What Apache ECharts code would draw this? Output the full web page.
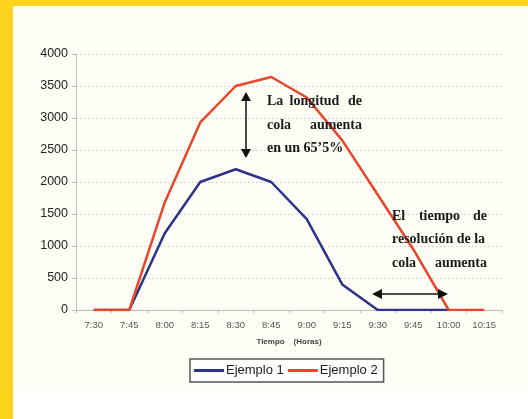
<!DOCTYPE html>
<html>
<head>
<meta charset="utf-8">
<script src="https://cdn.jsdelivr.net/npm/echarts@6/dist/echarts.min.js"></script>
<style>
html,body{margin:0;padding:0;background:#FDD31E;}
#c{width:528px;height:419px;}
</style>
</head>
<body>
<div id="c"></div>
<script>
const categories = ['7:30','7:45','8:00','8:15','8:30','8:45','9:00','9:15','9:30','9:45','10:00','10:15'];
const ejemplo1 = [0, 0, 1200, 2000, 2200, 2000, 1420, 400, 0, 0, 0, null];
const ejemplo2 = [0, 0, 1680, 2930, 3500, 3640, 3320, 2650, 1800, 950, 0, 0];
const yTicks = [0, 500, 1000, 1500, 2000, 2500, 3000, 3500, 4000];
const seriesNames = ['Ejemplo 1', 'Ejemplo 2'];

const chart = echarts.init(document.getElementById('c'));
const serif = '"Liberation Serif", "DejaVu Serif", serif';
const sans = '"Liberation Sans", Arial, sans-serif';

function word(text, x, y, align) {
  return {type:'text', z:10, style:{text:text, x:x, y:y, align:align||'left', verticalAlign:'middle',
    font:'bold 14px ' + serif, fill:'#1a1a1a'}};
}
function justified(words, x0, x1, y) {
  const out = [];
  if (words.length === 1) { out.push(word(words[0], x0, y, 'left')); return out; }
  out.push(word(words[0], x0, y, 'left'));
  out.push(word(words[words.length-1], x1, y, 'right'));
  for (let i = 1; i < words.length - 1; i++) {
    out.push(word(words[i], x0 + (x1 - x0) * i / (words.length - 1), y, 'center'));
  }
  return out;
}
function vArrow(x, y0, y1) {
  return [
    {type:'line', z:10, shape:{x1:x, y1:y0+6, x2:x, y2:y1-6}, style:{stroke:'#111', lineWidth:1.5}},
    {type:'polygon', z:10, shape:{points:[[x,y0],[x-5,y0+9],[x+5,y0+9]]}, style:{fill:'#111'}},
    {type:'polygon', z:10, shape:{points:[[x,y1],[x-5,y1-9],[x+5,y1-9]]}, style:{fill:'#111'}}
  ];
}
function hArrow(y, x0, x1) {
  return [
    {type:'line', z:10, shape:{x1:x0+6, y1:y, x2:x1-6, y2:y}, style:{stroke:'#111', lineWidth:1.5}},
    {type:'polygon', z:10, shape:{points:[[x0,y],[x0+10,y-5],[x0+10,y+5]]}, style:{fill:'#111'}},
    {type:'polygon', z:10, shape:{points:[[x1,y],[x1-10,y-5],[x1-10,y+5]]}, style:{fill:'#111'}}
  ];
}

const graphics = [
  {type:'rect', z:-10, silent:true, shape:{x:13, y:6, width:515, height:383}, style:{fill:'#FEFEF7'}},
  {type:'rect', z:-10, silent:true, shape:{x:13, y:389, width:515, height:30}, style:{fill:'#FFFFFF'}}
]
.concat(vArrow(246, 92, 158))
.concat(justified(['La','longitud','de'], 267, 362, 101))
.concat(justified(['cola','aumenta'], 267, 362, 125))
.concat(justified(['en un 65’5%'], 267, 362, 148))
.concat(justified(['El','tiempo','de'], 392, 487, 216))
.concat(justified(['resolución de la'], 392, 487, 239))
.concat(justified(['cola','aumenta'], 392, 487, 263))
.concat(hArrow(294, 372, 448));

chart.setOption({
  backgroundColor: 'transparent',
  animation: false,
  grid: {left:76, right:26, top:54, bottom:109, containLabel:false},
  legend: {
    data: seriesNames,
    left: 190, top: 359,
    itemWidth: 30, itemHeight: 3, itemGap: 4,
    borderColor: '#555', borderWidth: 1.5, borderRadius: 0,
    padding: [5, 6, 5, 4],
    backgroundColor: '#fff',
    textStyle: {fontFamily: sans, fontSize: 13, color: '#222', padding:[0,0,0,-3]},
    icon: 'rect'
  },
  xAxis: {
    type: 'category',
    data: categories,
    boundaryGap: true,
    name: 'Tiempo    (Horas)',
    nameLocation: 'middle',
    nameGap: 28,
    nameTextStyle: {fontFamily: sans, fontSize: 8, fontWeight: 'bold', color: '#444'},
    axisLine: {lineStyle: {color: '#bbb', width: 1}},
    axisTick: {show: true, alignWithLabel: false, length: 3, lineStyle: {color: '#bbb'}},
    axisLabel: {fontFamily: sans, fontSize: 9.5, color: '#555', margin: 10},
    splitLine: {show: false}
  },
  yAxis: {
    type: 'value',
    min: 0, max: 4000, interval: 500,
    axisLine: {show: true, lineStyle: {color: '#bbb', width: 1}},
    axisTick: {show: true, length: 4, lineStyle: {color: '#bbb'}},
    axisLabel: {fontFamily: sans, fontSize: 12.5, color: '#222', margin: 8,
      formatter: v => yTicks.includes(v) ? String(v) : ''},
    splitLine: {show: true, lineStyle: {color: '#ccc', type: [1.5, 2.5], width: 1}}
  },
  series: [
    {name: seriesNames[0], type: 'line', data: ejemplo1, symbol: 'none',
     lineStyle: {color: '#2B3488', width: 2.5}, itemStyle: {color: '#2B3488'}, z: 2},
    {name: seriesNames[1], type: 'line', data: ejemplo2, symbol: 'none',
     lineStyle: {color: '#E9462C', width: 2.5}, itemStyle: {color: '#E9462C'}, z: 3}
  ],
  graphic: graphics
});
</script>
</body>
</html>
